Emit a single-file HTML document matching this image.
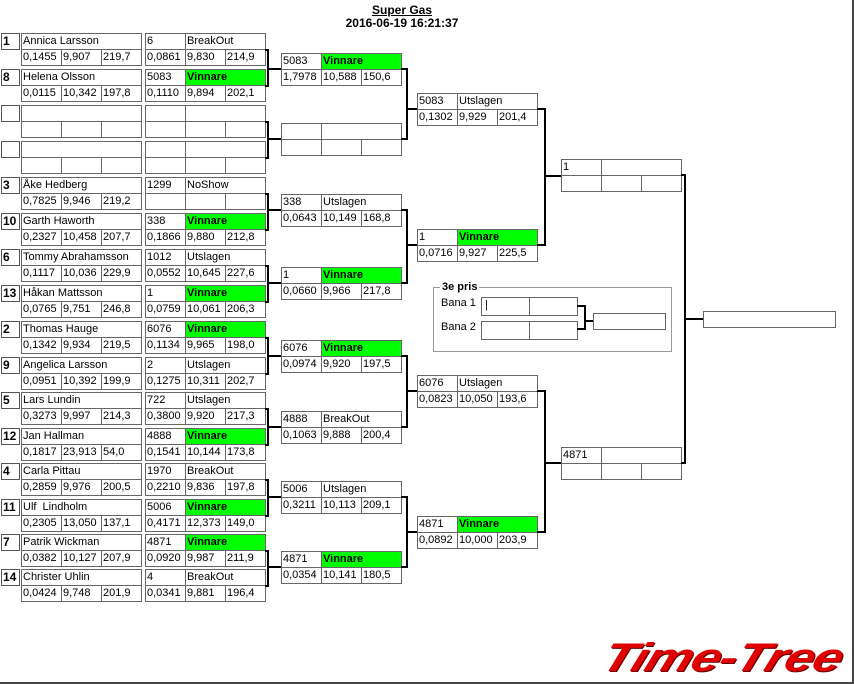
<!DOCTYPE html>
<html><head><meta charset="utf-8"><style>
body{margin:0;width:854px;height:684px;background:#fff;position:relative;overflow:hidden;font-family:"Liberation Sans",sans-serif}
.c{position:absolute;border:1px solid #666;height:17px;box-sizing:border-box;font-size:11px;line-height:15px;padding-left:1px;overflow:hidden;white-space:nowrap;color:#000;background:#fff}
.s{font-weight:bold;font-size:12px;border-color:#555}
.g{background:#00ff00;font-weight:bold}
.l{position:absolute;background:#000}
.t{position:absolute;font-size:12px;font-weight:bold;text-align:center;left:0;width:804px}
</style></head><body>
<div class="t" style="top:3px;text-decoration:underline">Super Gas</div>
<div class="t" style="top:16px">2016-06-19 16:21:37</div>
<div style="position:absolute;right:0;top:0;width:2px;height:684px;background:#444"></div>
<div style="position:absolute;left:0;bottom:0;width:854px;height:2px;background:#444"></div>

<!-- entries -->
<div class="c s" style="left:1px;top:33px;width:19px">1</div><div class="c" style="left:21px;top:33px;width:121px">Annica Larsson</div><div class="c" style="left:21px;top:49px;width:41px">0,1455</div><div class="c" style="left:61px;top:49px;width:41px">9,907</div><div class="c" style="left:101px;top:49px;width:41px">219,7</div><div class="c" style="left:145px;top:33px;width:41px">6</div><div class="c" style="left:185px;top:33px;width:81px">BreakOut</div><div class="c" style="left:145px;top:49px;width:41px">0,0861</div><div class="c" style="left:185px;top:49px;width:41px">9,830</div><div class="c" style="left:225px;top:49px;width:41px">214,9</div>
<div class="c s" style="left:1px;top:69px;width:19px">8</div><div class="c" style="left:21px;top:69px;width:121px">Helena Olsson</div><div class="c" style="left:21px;top:85px;width:41px">0,0115</div><div class="c" style="left:61px;top:85px;width:41px">10,342</div><div class="c" style="left:101px;top:85px;width:41px">197,8</div><div class="c" style="left:145px;top:69px;width:41px">5083</div><div class="c g" style="left:185px;top:69px;width:81px">Vinnare</div><div class="c" style="left:145px;top:85px;width:41px">0,1110</div><div class="c" style="left:185px;top:85px;width:41px">9,894</div><div class="c" style="left:225px;top:85px;width:41px">202,1</div>
<div class="c s" style="left:1px;top:105px;width:19px"></div><div class="c" style="left:21px;top:105px;width:121px"></div><div class="c" style="left:21px;top:121px;width:41px"></div><div class="c" style="left:61px;top:121px;width:41px"></div><div class="c" style="left:101px;top:121px;width:41px"></div><div class="c" style="left:145px;top:105px;width:41px"></div><div class="c" style="left:185px;top:105px;width:81px"></div><div class="c" style="left:145px;top:121px;width:41px"></div><div class="c" style="left:185px;top:121px;width:41px"></div><div class="c" style="left:225px;top:121px;width:41px"></div>
<div class="c s" style="left:1px;top:141px;width:19px"></div><div class="c" style="left:21px;top:141px;width:121px"></div><div class="c" style="left:21px;top:157px;width:41px"></div><div class="c" style="left:61px;top:157px;width:41px"></div><div class="c" style="left:101px;top:157px;width:41px"></div><div class="c" style="left:145px;top:141px;width:41px"></div><div class="c" style="left:185px;top:141px;width:81px"></div><div class="c" style="left:145px;top:157px;width:41px"></div><div class="c" style="left:185px;top:157px;width:41px"></div><div class="c" style="left:225px;top:157px;width:41px"></div>
<div class="c s" style="left:1px;top:177px;width:19px">3</div><div class="c" style="left:21px;top:177px;width:121px">Åke Hedberg</div><div class="c" style="left:21px;top:193px;width:41px">0,7825</div><div class="c" style="left:61px;top:193px;width:41px">9,946</div><div class="c" style="left:101px;top:193px;width:41px">219,2</div><div class="c" style="left:145px;top:177px;width:41px">1299</div><div class="c" style="left:185px;top:177px;width:81px">NoShow</div><div class="c" style="left:145px;top:193px;width:41px"></div><div class="c" style="left:185px;top:193px;width:41px"></div><div class="c" style="left:225px;top:193px;width:41px"></div>
<div class="c s" style="left:1px;top:213px;width:19px">10</div><div class="c" style="left:21px;top:213px;width:121px">Garth Haworth</div><div class="c" style="left:21px;top:229px;width:41px">0,2327</div><div class="c" style="left:61px;top:229px;width:41px">10,458</div><div class="c" style="left:101px;top:229px;width:41px">207,7</div><div class="c" style="left:145px;top:213px;width:41px">338</div><div class="c g" style="left:185px;top:213px;width:81px">Vinnare</div><div class="c" style="left:145px;top:229px;width:41px">0,1866</div><div class="c" style="left:185px;top:229px;width:41px">9,880</div><div class="c" style="left:225px;top:229px;width:41px">212,8</div>
<div class="c s" style="left:1px;top:249px;width:19px">6</div><div class="c" style="left:21px;top:249px;width:121px">Tommy Abrahamsson</div><div class="c" style="left:21px;top:265px;width:41px">0,1117</div><div class="c" style="left:61px;top:265px;width:41px">10,036</div><div class="c" style="left:101px;top:265px;width:41px">229,9</div><div class="c" style="left:145px;top:249px;width:41px">1012</div><div class="c" style="left:185px;top:249px;width:81px">Utslagen</div><div class="c" style="left:145px;top:265px;width:41px">0,0552</div><div class="c" style="left:185px;top:265px;width:41px">10,645</div><div class="c" style="left:225px;top:265px;width:41px">227,6</div>
<div class="c s" style="left:1px;top:285px;width:19px">13</div><div class="c" style="left:21px;top:285px;width:121px">Håkan Mattsson</div><div class="c" style="left:21px;top:301px;width:41px">0,0765</div><div class="c" style="left:61px;top:301px;width:41px">9,751</div><div class="c" style="left:101px;top:301px;width:41px">246,8</div><div class="c" style="left:145px;top:285px;width:41px">1</div><div class="c g" style="left:185px;top:285px;width:81px">Vinnare</div><div class="c" style="left:145px;top:301px;width:41px">0,0759</div><div class="c" style="left:185px;top:301px;width:41px">10,061</div><div class="c" style="left:225px;top:301px;width:41px">206,3</div>
<div class="c s" style="left:1px;top:321px;width:19px">2</div><div class="c" style="left:21px;top:321px;width:121px">Thomas Hauge</div><div class="c" style="left:21px;top:337px;width:41px">0,1342</div><div class="c" style="left:61px;top:337px;width:41px">9,934</div><div class="c" style="left:101px;top:337px;width:41px">219,5</div><div class="c" style="left:145px;top:321px;width:41px">6076</div><div class="c g" style="left:185px;top:321px;width:81px">Vinnare</div><div class="c" style="left:145px;top:337px;width:41px">0,1134</div><div class="c" style="left:185px;top:337px;width:41px">9,965</div><div class="c" style="left:225px;top:337px;width:41px">198,0</div>
<div class="c s" style="left:1px;top:357px;width:19px">9</div><div class="c" style="left:21px;top:357px;width:121px">Angelica Larsson</div><div class="c" style="left:21px;top:373px;width:41px">0,0951</div><div class="c" style="left:61px;top:373px;width:41px">10,392</div><div class="c" style="left:101px;top:373px;width:41px">199,9</div><div class="c" style="left:145px;top:357px;width:41px">2</div><div class="c" style="left:185px;top:357px;width:81px">Utslagen</div><div class="c" style="left:145px;top:373px;width:41px">0,1275</div><div class="c" style="left:185px;top:373px;width:41px">10,311</div><div class="c" style="left:225px;top:373px;width:41px">202,7</div>
<div class="c s" style="left:1px;top:392px;width:19px">5</div><div class="c" style="left:21px;top:392px;width:121px">Lars Lundin</div><div class="c" style="left:21px;top:408px;width:41px">0,3273</div><div class="c" style="left:61px;top:408px;width:41px">9,997</div><div class="c" style="left:101px;top:408px;width:41px">214,3</div><div class="c" style="left:145px;top:392px;width:41px">722</div><div class="c" style="left:185px;top:392px;width:81px">Utslagen</div><div class="c" style="left:145px;top:408px;width:41px">0,3800</div><div class="c" style="left:185px;top:408px;width:41px">9,920</div><div class="c" style="left:225px;top:408px;width:41px">217,3</div>
<div class="c s" style="left:1px;top:428px;width:19px">12</div><div class="c" style="left:21px;top:428px;width:121px">Jan Hallman</div><div class="c" style="left:21px;top:444px;width:41px">0,1817</div><div class="c" style="left:61px;top:444px;width:41px">23,913</div><div class="c" style="left:101px;top:444px;width:41px">54,0</div><div class="c" style="left:145px;top:428px;width:41px">4888</div><div class="c g" style="left:185px;top:428px;width:81px">Vinnare</div><div class="c" style="left:145px;top:444px;width:41px">0,1541</div><div class="c" style="left:185px;top:444px;width:41px">10,144</div><div class="c" style="left:225px;top:444px;width:41px">173,8</div>
<div class="c s" style="left:1px;top:463px;width:19px">4</div><div class="c" style="left:21px;top:463px;width:121px">Carla Pittau</div><div class="c" style="left:21px;top:479px;width:41px">0,2859</div><div class="c" style="left:61px;top:479px;width:41px">9,976</div><div class="c" style="left:101px;top:479px;width:41px">200,5</div><div class="c" style="left:145px;top:463px;width:41px">1970</div><div class="c" style="left:185px;top:463px;width:81px">BreakOut</div><div class="c" style="left:145px;top:479px;width:41px">0,2210</div><div class="c" style="left:185px;top:479px;width:41px">9,836</div><div class="c" style="left:225px;top:479px;width:41px">197,8</div>
<div class="c s" style="left:1px;top:499px;width:19px">11</div><div class="c" style="left:21px;top:499px;width:121px">Ulf&nbsp; Lindholm</div><div class="c" style="left:21px;top:515px;width:41px">0,2305</div><div class="c" style="left:61px;top:515px;width:41px">13,050</div><div class="c" style="left:101px;top:515px;width:41px">137,1</div><div class="c" style="left:145px;top:499px;width:41px">5006</div><div class="c g" style="left:185px;top:499px;width:81px">Vinnare</div><div class="c" style="left:145px;top:515px;width:41px">0,4171</div><div class="c" style="left:185px;top:515px;width:41px">12,373</div><div class="c" style="left:225px;top:515px;width:41px">149,0</div>
<div class="c s" style="left:1px;top:534px;width:19px">7</div><div class="c" style="left:21px;top:534px;width:121px">Patrik Wickman</div><div class="c" style="left:21px;top:550px;width:41px">0,0382</div><div class="c" style="left:61px;top:550px;width:41px">10,127</div><div class="c" style="left:101px;top:550px;width:41px">207,9</div><div class="c" style="left:145px;top:534px;width:41px">4871</div><div class="c g" style="left:185px;top:534px;width:81px">Vinnare</div><div class="c" style="left:145px;top:550px;width:41px">0,0920</div><div class="c" style="left:185px;top:550px;width:41px">9,987</div><div class="c" style="left:225px;top:550px;width:41px">211,9</div>
<div class="c s" style="left:1px;top:569px;width:19px">14</div><div class="c" style="left:21px;top:569px;width:121px">Christer Uhlin</div><div class="c" style="left:21px;top:585px;width:41px">0,0424</div><div class="c" style="left:61px;top:585px;width:41px">9,748</div><div class="c" style="left:101px;top:585px;width:41px">201,9</div><div class="c" style="left:145px;top:569px;width:41px">4</div><div class="c" style="left:185px;top:569px;width:81px">BreakOut</div><div class="c" style="left:145px;top:585px;width:41px">0,0341</div><div class="c" style="left:185px;top:585px;width:41px">9,881</div><div class="c" style="left:225px;top:585px;width:41px">196,4</div>

<!-- round 1 brackets -->
<div class="l" style="left:265px;top:49px;width:4px;height:2px"></div><div class="l" style="left:267px;top:49px;width:2px;height:38px"></div><div class="l" style="left:265px;top:85px;width:4px;height:2px"></div><div class="l" style="left:267px;top:68px;width:14px;height:2px"></div>
<div class="l" style="left:265px;top:121px;width:4px;height:2px"></div><div class="l" style="left:267px;top:121px;width:2px;height:38px"></div><div class="l" style="left:265px;top:157px;width:4px;height:2px"></div><div class="l" style="left:267px;top:138px;width:14px;height:2px"></div>
<div class="l" style="left:265px;top:193px;width:4px;height:2px"></div><div class="l" style="left:267px;top:193px;width:2px;height:38px"></div><div class="l" style="left:265px;top:229px;width:4px;height:2px"></div><div class="l" style="left:267px;top:209px;width:14px;height:2px"></div>
<div class="l" style="left:265px;top:265px;width:4px;height:2px"></div><div class="l" style="left:267px;top:265px;width:2px;height:38px"></div><div class="l" style="left:265px;top:301px;width:4px;height:2px"></div><div class="l" style="left:267px;top:282px;width:14px;height:2px"></div>
<div class="l" style="left:265px;top:337px;width:4px;height:2px"></div><div class="l" style="left:267px;top:337px;width:2px;height:38px"></div><div class="l" style="left:265px;top:373px;width:4px;height:2px"></div><div class="l" style="left:267px;top:355px;width:14px;height:2px"></div>
<div class="l" style="left:265px;top:408px;width:4px;height:2px"></div><div class="l" style="left:267px;top:408px;width:2px;height:38px"></div><div class="l" style="left:265px;top:444px;width:4px;height:2px"></div><div class="l" style="left:267px;top:426px;width:14px;height:2px"></div>
<div class="l" style="left:265px;top:479px;width:4px;height:2px"></div><div class="l" style="left:267px;top:479px;width:2px;height:38px"></div><div class="l" style="left:265px;top:515px;width:4px;height:2px"></div><div class="l" style="left:267px;top:496px;width:14px;height:2px"></div>
<div class="l" style="left:265px;top:550px;width:4px;height:2px"></div><div class="l" style="left:267px;top:550px;width:2px;height:37px"></div><div class="l" style="left:265px;top:585px;width:4px;height:2px"></div><div class="l" style="left:267px;top:566px;width:14px;height:2px"></div>

<!-- round 2 -->
<div class="c" style="left:281px;top:53px;width:41px">5083</div><div class="c g" style="left:321px;top:53px;width:81px">Vinnare</div><div class="c" style="left:281px;top:69px;width:41px">1,7978</div><div class="c" style="left:321px;top:69px;width:41px">10,588</div><div class="c" style="left:361px;top:69px;width:41px">150,6</div>
<div class="c" style="left:281px;top:123px;width:41px"></div><div class="c" style="left:321px;top:123px;width:81px"></div><div class="c" style="left:281px;top:139px;width:41px"></div><div class="c" style="left:321px;top:139px;width:41px"></div><div class="c" style="left:361px;top:139px;width:41px"></div>
<div class="c" style="left:281px;top:194px;width:41px">338</div><div class="c" style="left:321px;top:194px;width:81px">Utslagen</div><div class="c" style="left:281px;top:210px;width:41px">0,0643</div><div class="c" style="left:321px;top:210px;width:41px">10,149</div><div class="c" style="left:361px;top:210px;width:41px">168,8</div>
<div class="c" style="left:281px;top:267px;width:41px">1</div><div class="c g" style="left:321px;top:267px;width:81px">Vinnare</div><div class="c" style="left:281px;top:283px;width:41px">0,0660</div><div class="c" style="left:321px;top:283px;width:41px">9,966</div><div class="c" style="left:361px;top:283px;width:41px">217,8</div>
<div class="c" style="left:281px;top:340px;width:41px">6076</div><div class="c g" style="left:321px;top:340px;width:81px">Vinnare</div><div class="c" style="left:281px;top:356px;width:41px">0,0974</div><div class="c" style="left:321px;top:356px;width:41px">9,920</div><div class="c" style="left:361px;top:356px;width:41px">197,5</div>
<div class="c" style="left:281px;top:411px;width:41px">4888</div><div class="c" style="left:321px;top:411px;width:81px">BreakOut</div><div class="c" style="left:281px;top:427px;width:41px">0,1063</div><div class="c" style="left:321px;top:427px;width:41px">9,888</div><div class="c" style="left:361px;top:427px;width:41px">200,4</div>
<div class="c" style="left:281px;top:481px;width:41px">5006</div><div class="c" style="left:321px;top:481px;width:81px">Utslagen</div><div class="c" style="left:281px;top:497px;width:41px">0,3211</div><div class="c" style="left:321px;top:497px;width:41px">10,113</div><div class="c" style="left:361px;top:497px;width:41px">209,1</div>
<div class="c" style="left:281px;top:551px;width:41px">4871</div><div class="c g" style="left:321px;top:551px;width:81px">Vinnare</div><div class="c" style="left:281px;top:567px;width:41px">0,0354</div><div class="c" style="left:321px;top:567px;width:41px">10,141</div><div class="c" style="left:361px;top:567px;width:41px">180,5</div>

<!-- round 2 brackets -->
<div class="l" style="left:401px;top:68px;width:6px;height:2px"></div><div class="l" style="left:406px;top:68px;width:2px;height:72px"></div><div class="l" style="left:401px;top:138px;width:6px;height:2px"></div><div class="l" style="left:406px;top:108px;width:11px;height:2px"></div>
<div class="l" style="left:401px;top:209px;width:6px;height:2px"></div><div class="l" style="left:406px;top:209px;width:2px;height:75px"></div><div class="l" style="left:401px;top:282px;width:6px;height:2px"></div><div class="l" style="left:406px;top:244px;width:11px;height:2px"></div>
<div class="l" style="left:401px;top:355px;width:6px;height:2px"></div><div class="l" style="left:406px;top:355px;width:2px;height:73px"></div><div class="l" style="left:401px;top:426px;width:6px;height:2px"></div><div class="l" style="left:406px;top:390px;width:11px;height:2px"></div>
<div class="l" style="left:401px;top:496px;width:6px;height:2px"></div><div class="l" style="left:406px;top:496px;width:2px;height:72px"></div><div class="l" style="left:401px;top:566px;width:6px;height:2px"></div><div class="l" style="left:406px;top:531px;width:11px;height:2px"></div>

<!-- round 3 -->
<div class="c" style="left:417px;top:93px;width:41px">5083</div><div class="c" style="left:457px;top:93px;width:81px">Utslagen</div><div class="c" style="left:417px;top:109px;width:41px">0,1302</div><div class="c" style="left:457px;top:109px;width:41px">9,929</div><div class="c" style="left:497px;top:109px;width:41px">201,4</div>
<div class="c" style="left:417px;top:229px;width:41px">1</div><div class="c g" style="left:457px;top:229px;width:81px">Vinnare</div><div class="c" style="left:417px;top:245px;width:41px">0,0716</div><div class="c" style="left:457px;top:245px;width:41px">9,927</div><div class="c" style="left:497px;top:245px;width:41px">225,5</div>
<div class="c" style="left:417px;top:375px;width:41px">6076</div><div class="c" style="left:457px;top:375px;width:81px">Utslagen</div><div class="c" style="left:417px;top:391px;width:41px">0,0823</div><div class="c" style="left:457px;top:391px;width:41px">10,050</div><div class="c" style="left:497px;top:391px;width:41px">193,6</div>
<div class="c" style="left:417px;top:516px;width:41px">4871</div><div class="c g" style="left:457px;top:516px;width:81px">Vinnare</div><div class="c" style="left:417px;top:532px;width:41px">0,0892</div><div class="c" style="left:457px;top:532px;width:41px">10,000</div><div class="c" style="left:497px;top:532px;width:41px">203,9</div>

<!-- round 3 brackets -->
<div class="l" style="left:537px;top:108px;width:8px;height:2px"></div><div class="l" style="left:544px;top:108px;width:2px;height:138px"></div><div class="l" style="left:537px;top:244px;width:8px;height:2px"></div><div class="l" style="left:544px;top:175px;width:17px;height:2px"></div>
<div class="l" style="left:537px;top:390px;width:8px;height:2px"></div><div class="l" style="left:544px;top:390px;width:2px;height:143px"></div><div class="l" style="left:537px;top:531px;width:8px;height:2px"></div><div class="l" style="left:544px;top:462px;width:17px;height:2px"></div>

<!-- round 4 -->
<div class="c" style="left:561px;top:159px;width:41px">1</div><div class="c" style="left:601px;top:159px;width:81px"></div><div class="c" style="left:561px;top:175px;width:41px"></div><div class="c" style="left:601px;top:175px;width:41px"></div><div class="c" style="left:641px;top:175px;width:41px"></div>
<div class="c" style="left:561px;top:447px;width:41px">4871</div><div class="c" style="left:601px;top:447px;width:81px"></div><div class="c" style="left:561px;top:463px;width:41px"></div><div class="c" style="left:601px;top:463px;width:41px"></div><div class="c" style="left:641px;top:463px;width:41px"></div>
<div class="l" style="left:681px;top:174px;width:5px;height:2px"></div><div class="l" style="left:684px;top:174px;width:2px;height:290px"></div><div class="l" style="left:681px;top:462px;width:5px;height:2px"></div><div class="l" style="left:684px;top:318px;width:19px;height:2px"></div>
<div class="c" style="left:703px;top:311px;width:133px"></div>

<!-- 3e pris -->
<div style="position:absolute;left:433px;top:287px;width:239px;height:65px;border:1px solid #999;box-sizing:border-box"></div>
<div style="position:absolute;left:440px;top:281px;padding:0 2px;background:#fff;font-size:11px;font-weight:bold">3e pris</div>
<div style="position:absolute;left:441px;top:297px;font-size:11px">Bana 1</div>
<div style="position:absolute;left:441px;top:321px;font-size:11px">Bana 2</div>
<div class="c" style="left:481px;top:297px;width:49px;height:19px;padding-left:3px">|</div><div class="c" style="left:529px;top:297px;width:49px;height:19px"></div>
<div class="c" style="left:481px;top:321px;width:49px;height:19px"></div><div class="c" style="left:529px;top:321px;width:49px;height:19px"></div>
<div class="l" style="left:577px;top:305px;width:8px;height:2px"></div><div class="l" style="left:584px;top:305px;width:2px;height:25px"></div><div class="l" style="left:577px;top:328px;width:8px;height:2px"></div><div class="l" style="left:584px;top:320px;width:9px;height:2px"></div>
<div class="c" style="left:593px;top:313px;width:73px"></div>

<div style="position:absolute;left:612px;top:634px;font-size:40px;line-height:48px;font-weight:bold;font-style:italic;color:#e00000;letter-spacing:-1px;transform-origin:0 0;transform:scaleX(1.32) skewX(-15deg);text-shadow:1px 1px 0 #600;white-space:nowrap">Time-Tree</div>
</body></html>
